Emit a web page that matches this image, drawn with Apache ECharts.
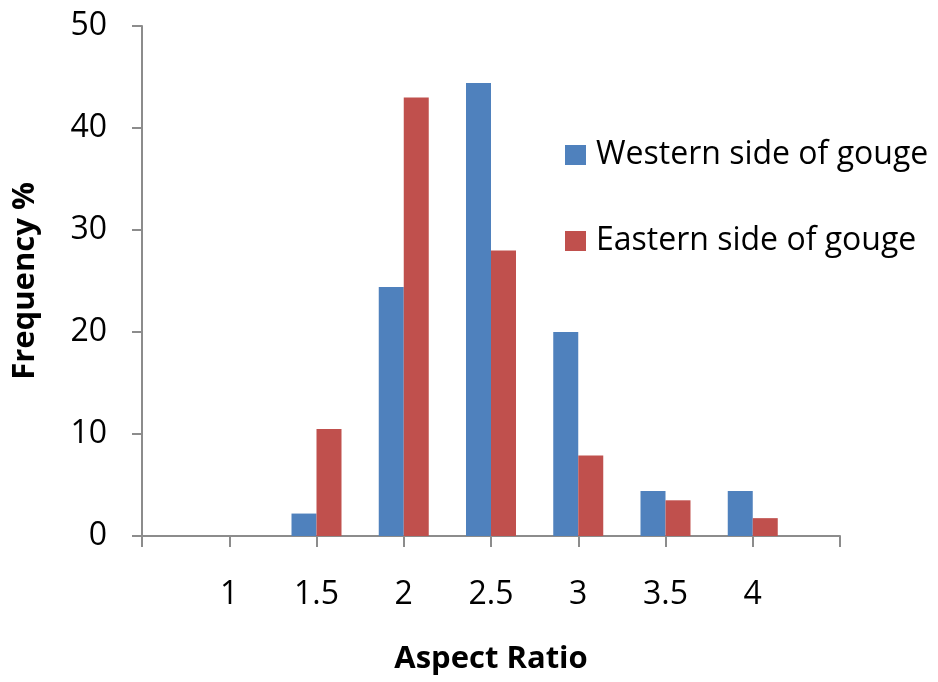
<!DOCTYPE html>
<html>
<head>
<meta charset="utf-8">
<title>Aspect Ratio Frequency</title>
<script src="https://cdn.jsdelivr.net/npm/echarts@6/dist/echarts.min.js"></script>
<style>
  html, body { margin: 0; padding: 0; background: #ffffff; }
  #chart { width: 938px; height: 682px; }
</style>
</head>
<body>
<div id="chart"></div>
<script>
// Aspect ratio bins shown on the x axis
const categories = ['1', '1.5', '2', '2.5', '3', '3.5', '4'];
// Frequency (%) for each bin
const westernValues = [0, 2.2, 24.4, 44.4, 20.0, 4.4, 4.4];
const easternValues = [0, 10.5, 43.0, 28.0, 7.9, 3.5, 1.75];
const seriesNames = ['Western side of gouge', 'Eastern side of gouge'];
const yTicks = { min: 0, max: 50, interval: 10 };

// Empty slots at each end give the half-bin margin on either side of the bars
const axisCats = [''].concat(categories, ['']);
const pad = arr => [null].concat(arr, [null]);

const FONT = '"Open Sans", "Liberation Sans", sans-serif';
const AXIS_GRAY = '#8c8c8c';

const chart = echarts.init(document.getElementById('chart'), null, { renderer: 'canvas' });
chart.setOption({
  animation: false,
  backgroundColor: '#ffffff',
  textStyle: { fontFamily: FONT },
  grid: { left: 142, right: 98, top: 26, bottom: 146, containLabel: false },
  legend: {
    orient: 'vertical',
    left: 565,
    top: 139,
    padding: 0,
    itemWidth: 21,
    itemHeight: 20,
    itemGap: 54,
    icon: 'rect',
    textStyle: { fontFamily: FONT, fontSize: 32, color: '#000', lineHeight: 30, padding: [0, 0, 0, 5] },
    data: seriesNames
  },
  xAxis: {
    type: 'category',
    data: axisCats,
    boundaryGap: false,
    name: 'Aspect Ratio',
    nameLocation: 'middle',
    nameGap: 108,
    nameTextStyle: { fontFamily: FONT, fontSize: 31, fontWeight: 'bold', color: '#000' },
    axisLine: { lineStyle: { color: AXIS_GRAY, width: 2 } },
    axisTick: { show: true, inside: false, length: 11, interval: 0, lineStyle: { color: AXIS_GRAY, width: 2 } },
    axisLabel: { interval: 0, margin: 43, fontFamily: FONT, fontSize: 32, color: '#000' },
    splitLine: { show: false }
  },
  yAxis: {
    type: 'value',
    min: yTicks.min,
    max: yTicks.max,
    interval: yTicks.interval,
    name: 'Frequency %',
    nameLocation: 'middle',
    nameGap: 101,
    nameTextStyle: { fontFamily: FONT, fontSize: 31, fontWeight: 'bold', color: '#000' },
    axisLine: { show: true, lineStyle: { color: AXIS_GRAY, width: 2 } },
    axisTick: { show: true, inside: false, length: 10, lineStyle: { color: AXIS_GRAY, width: 2 } },
    axisLabel: { margin: 35, fontFamily: FONT, fontSize: 32, color: '#000' },
    splitLine: { show: false }
  },
  series: [
    {
      name: seriesNames[0],
      type: 'bar',
      data: pad(westernValues),
      barWidth: 25,
      barGap: '0%',
      itemStyle: { color: '#4f81bd' }
    },
    {
      name: seriesNames[1],
      type: 'bar',
      data: pad(easternValues),
      barWidth: 25,
      barGap: '0%',
      itemStyle: { color: '#c0504d' }
    }
  ]
});
</script>
</body>
</html>
